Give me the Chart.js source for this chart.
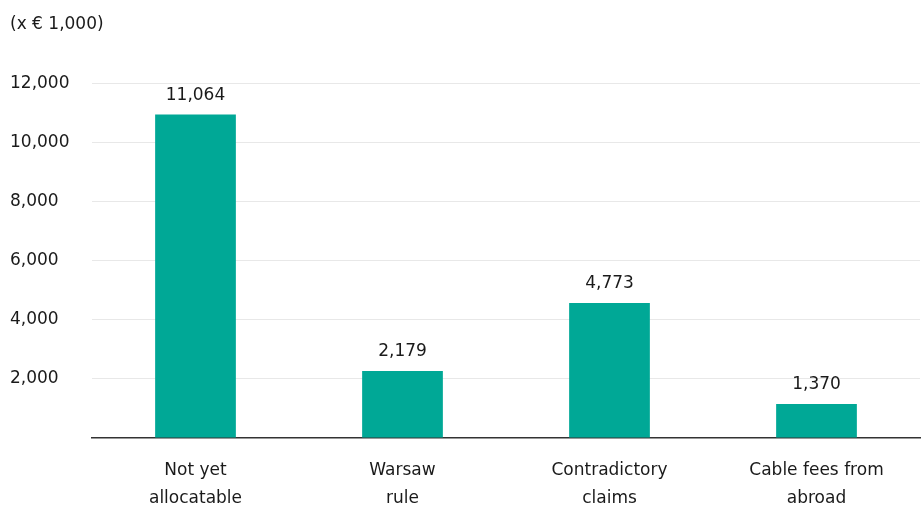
<!DOCTYPE html>
<html>
<head>
<meta charset="utf-8">
<script src="https://cdn.jsdelivr.net/npm/chart.js@4"></script>
<style>
  html, body { margin: 0; padding: 0; background: #fff; }
  #wrap { width: 923px; height: 506px; }
</style>
</head>
<body>
<div id="wrap"><canvas id="barChart"></canvas></div>
<script>
const categories = [['Not yet', 'allocatable'], ['Warsaw', 'rule'], ['Contradictory', 'claims'], ['Cable fees from', 'abroad']];
const barValues = [10950, 2265, 4565, 1150];
const valueLabels = ['11,064', '2,179', '4,773', '1,370'];
const yTicks = [0, 2000, 4000, 6000, 8000, 10000, 12000];

const fontFamily = "'DejaVu Sans', 'Open Sans', sans-serif";

const valueLabelPlugin = {
    id: 'valueLabels',
    afterDatasetsDraw(chart) {
        const ctx = chart.ctx;
        const meta = chart.getDatasetMeta(0);
        ctx.save();
        ctx.font = '17px ' + fontFamily;
        ctx.fillStyle = '#1a1a1a';
        ctx.textAlign = 'center';
        ctx.textBaseline = 'middle';
        meta.data.forEach((bar, i) => {
            ctx.fillText(valueLabels[i], bar.x, bar.y - 19);
        });
        ctx.restore();
    }
};

const ctx = document.getElementById('barChart').getContext('2d');
new Chart(ctx, {
    type: 'bar',
    data: {
        labels: categories,
        datasets: [{
            data: barValues,
            backgroundColor: '#00a896',
            barPercentage: 0.78,
            categoryPercentage: 0.5
        }]
    },
    options: {
        responsive: true,
        maintainAspectRatio: false,
        animation: false,
        layout: { padding: { left: 10, right: 3, top: 0, bottom: -18 } },
        plugins: {
            legend: { display: false },
            tooltip: { enabled: false },
            title: {
                display: true,
                text: '(x € 1,000)',
                align: 'start',
                color: '#1a1a1a',
                font: { family: fontFamily, size: 17, weight: 'normal' },
                padding: { top: 14, bottom: 49 }
            }
        },
        scales: {
            x: {
                grid: { display: false },
                border: { display: true, color: '#333', width: 1.5 },
                ticks: {
                    color: '#1a1a1a',
                    font: { family: fontFamily, size: 17, lineHeight: 1.65 },
                    padding: 11,
                    maxRotation: 0
                }
            },
            y: {
                min: 0,
                max: 12000,
                afterBuildTicks(scale) {
                    scale.ticks = yTicks.map(v => ({ value: v }));
                },
                afterFit(scale) {
                    scale.width = 82;
                },
                grid: { color: '#e8e8e8', drawTicks: false, lineWidth: 1 },
                border: { display: false },
                ticks: {
                    color: '#1a1a1a',
                    font: { family: fontFamily, size: 17 },
                    crossAlign: 'far',
                    padding: 0,
                    callback: v => v === 0 ? '' : v.toLocaleString('en-US')
                }
            }
        }
    },
    plugins: [valueLabelPlugin]
});
</script>
</body>
</html>
